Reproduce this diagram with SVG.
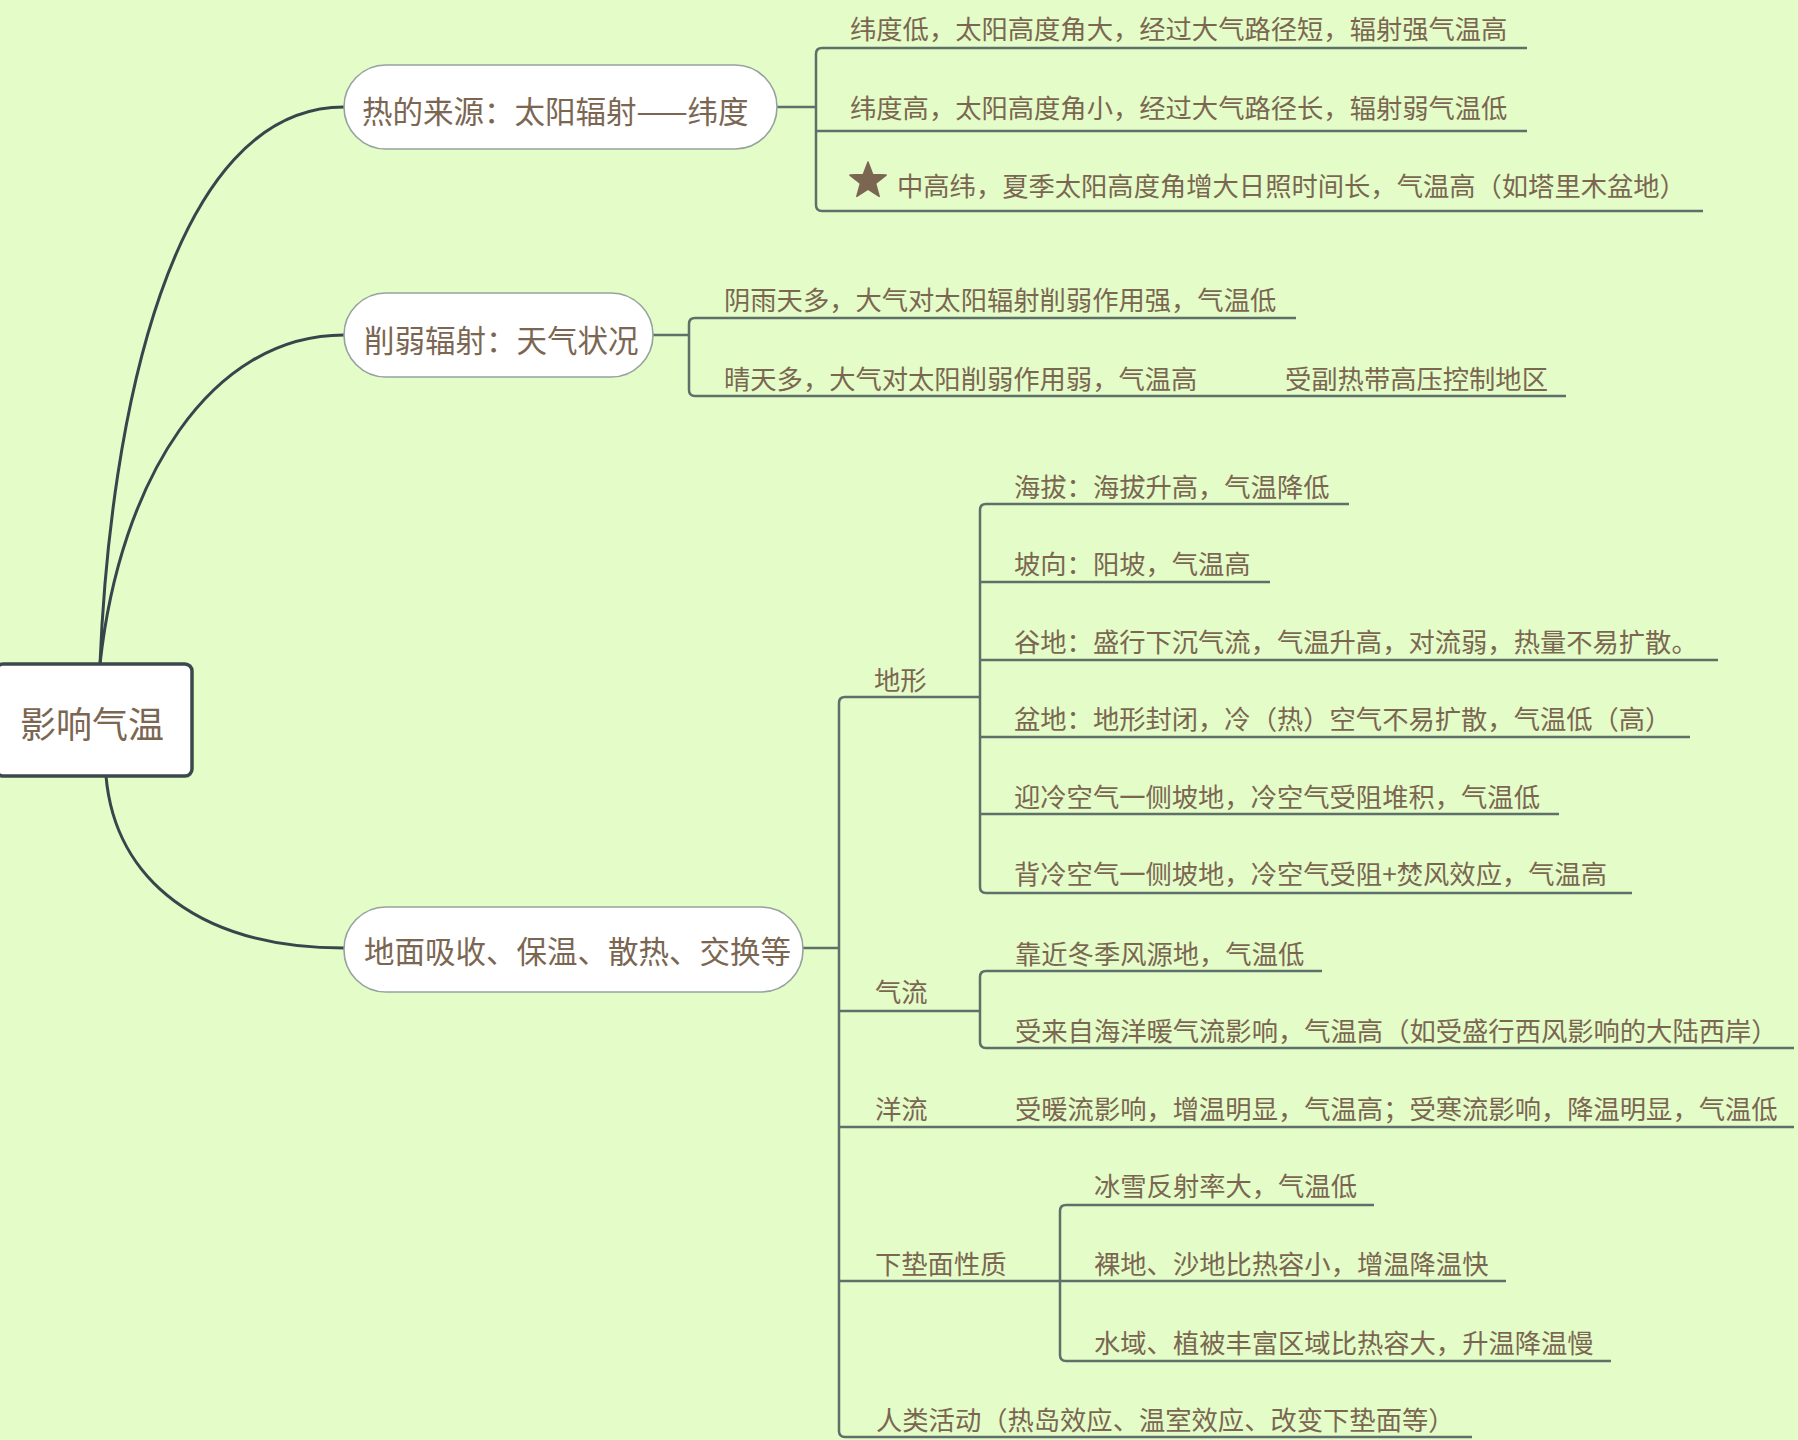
<svg xmlns="http://www.w3.org/2000/svg" width="1798" height="1440" viewBox="0 0 1798 1440">
<style>
text{font-family:"Noto Sans CJK SC","Noto Sans",sans-serif;fill:#7b6652;dominant-baseline:central}
.t{font-size:26.3px}
.n1{font-size:30.5px}
.root{font-size:36px}
.main{fill:none;stroke:#36464b;stroke-width:3;stroke-linecap:round}
.br{fill:none;stroke:#5f6f69;stroke-width:2.5}
.pill{fill:#ffffff;stroke:#95a29f;stroke-width:1.6}
</style>
<rect width="1798" height="1440" fill="#e3fcc8"/>
<g id="connectors">
<path class="main" d="M100,664 C110,420 170,107 344,107"/>
<path class="main" d="M100,664 C120,480 210,335 344,335"/>
<path class="main" d="M106,776 C115,880 200,948 344,948"/>
<path class="br" d="M777,107 H816"/>
<path class="br" d="M1527,48 H822 Q816,48 816,54 V205 Q816,211 822,211 H1703"/>
<path class="br" d="M816,131 H1527"/>
<path class="br" d="M653,335 H689"/>
<path class="br" d="M1296,318 H695 Q689,318 689,324 V390 Q689,396 695,396 H1566"/>
<path class="br" d="M803,948 H839"/>
<path class="br" d="M980,697 H845 Q839,697 839,703 V1431 Q839,1437 845,1437 H1472"/>
<path class="br" d="M839,1011 H980"/>
<path class="br" d="M839,1127 H1794"/>
<path class="br" d="M839,1281 H1060"/>
<path class="br" d="M1349,504 H986 Q980,504 980,510 V887 Q980,893 986,893 H1632"/>
<path class="br" d="M980,582 H1270 M980,660 H1718 M980,737 H1690 M980,814 H1559"/>
<path class="br" d="M1322,971 H986 Q980,971 980,977 V1042 Q980,1048 986,1048 H1794"/>
<path class="br" d="M1374,1205 H1066 Q1060,1205 1060,1211 V1355 Q1060,1361 1066,1361 H1611"/>
<path class="br" d="M1060,1281 H1506"/>
</g>
<g id="root">
<rect x="-4" y="664" width="196" height="112" rx="7" fill="#ffffff" stroke="#3b494d" stroke-width="3.5"/>
<text class="root" x="20" y="722">影响气温</text>
</g>
<g id="n-source">
<rect class="pill" x="344" y="65" width="433" height="84" rx="42"/>
<text class="n1" x="362" y="110">热的来源：太阳辐射——纬度</text>
</g>
<g id="n-weaken">
<rect class="pill" x="344" y="293" width="309" height="84" rx="42"/>
<text class="n1" x="364" y="339">削弱辐射：天气状况</text>
</g>
<g id="n-ground">
<rect class="pill" x="344" y="907" width="459" height="85" rx="42"/>
<text class="n1" x="364" y="950">地面吸收、保温、散热、交换等</text>
</g>
<g id="s1"><text class="t" x="850" y="27">纬度低，太阳高度角大，经过大气路径短，辐射强气温高</text></g>
<g id="s2"><text class="t" x="850" y="106">纬度高，太阳高度角小，经过大气路径长，辐射弱气温低</text></g>
<g id="s3">
<polygon points="868,162 872.7,174.5 886.1,175.1 875.6,183.5 879.2,196.4 868,189 856.8,196.4 860.4,183.5 849.9,175.1 863.3,174.5" fill="#7b6652" stroke="#7b6652" stroke-width="1.5" stroke-linejoin="round"/>
<text class="t" x="897" y="184">中高纬，夏季太阳高度角增大日照时间长，气温高（如塔里木盆地）</text>
</g>
<g id="w1"><text class="t" x="724" y="298">阴雨天多，大气对太阳辐射削弱作用强，气温低</text></g>
<g id="w2">
<text class="t" x="724" y="377">晴天多，大气对太阳削弱作用弱，气温高</text>
<text class="t" x="1285" y="377">受副热带高压控制地区</text>
</g>
<g id="terrain">
<text class="t" x="874" y="678">地形</text>
</g>
<g id="terrain-1"><text class="t" x="1014" y="485">海拔：海拔升高，气温降低</text></g>
<g id="terrain-2"><text class="t" x="1014" y="562">坡向：阳坡，气温高</text></g>
<g id="terrain-3"><text class="t" x="1014" y="640">谷地：盛行下沉气流，气温升高，对流弱，热量不易扩散。</text></g>
<g id="terrain-4"><text class="t" x="1014" y="717">盆地：地形封闭，冷（热）空气不易扩散，气温低（高）</text></g>
<g id="terrain-5"><text class="t" x="1014" y="795">迎冷空气一侧坡地，冷空气受阻堆积，气温低</text></g>
<g id="terrain-6"><text class="t" x="1014" y="872">背冷空气一侧坡地，冷空气受阻+焚风效应，气温高</text></g>
<g id="airflow"><text class="t" x="875" y="990">气流</text></g>
<g id="airflow-1"><text class="t" x="1015" y="952">靠近冬季风源地，气温低</text></g>
<g id="airflow-2"><text class="t" x="1015" y="1029">受来自海洋暖气流影响，气温高（如受盛行西风影响的大陆西岸）</text></g>
<g id="current">
<text class="t" x="875" y="1107">洋流</text>
<text class="t" x="1015" y="1107">受暖流影响，增温明显，气温高；受寒流影响，降温明显，气温低</text>
</g>
<g id="surface"><text class="t" x="875" y="1262">下垫面性质</text></g>
<g id="surface-1"><text class="t" x="1094" y="1184">冰雪反射率大，气温低</text></g>
<g id="surface-2"><text class="t" x="1094" y="1262">裸地、沙地比热容小，增温降温快</text></g>
<g id="surface-3"><text class="t" x="1094" y="1341">水域、植被丰富区域比热容大，升温降温慢</text></g>
<g id="human"><text class="t" x="876" y="1418">人类活动（热岛效应、温室效应、改变下垫面等）</text></g>
</svg>
